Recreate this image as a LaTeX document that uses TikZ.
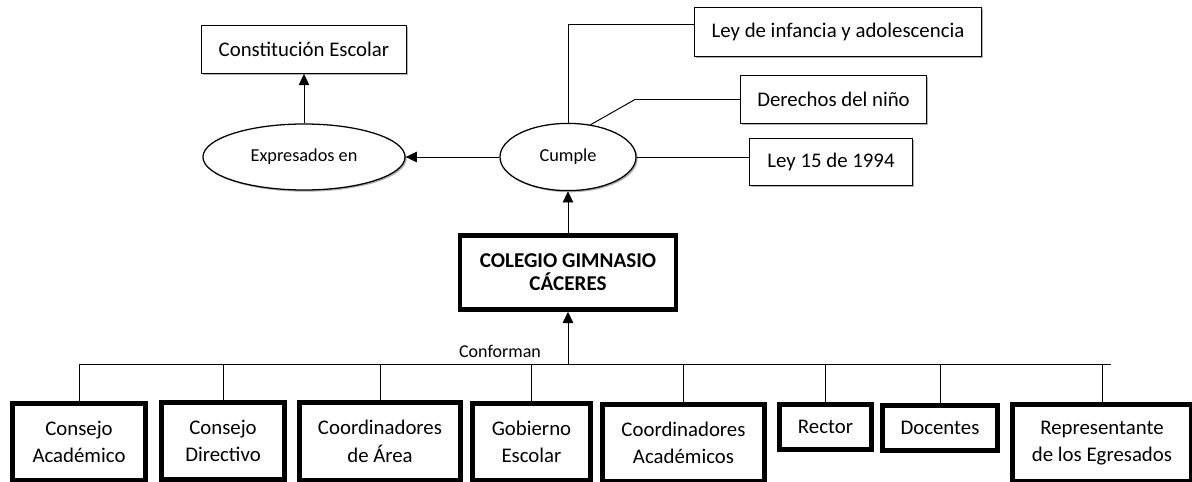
\documentclass[tikz,border=0pt]{standalone}
\usepackage{fontspec}
\setmainfont{Carlito}
\usetikzlibrary{shapes.geometric,arrows.meta,shadows}

\begin{document}
\begin{tikzpicture}[x=0.025cm,y=-0.025cm,line width=0.7pt]
    \tikzstyle{shade}=[drop shadow={shadow xshift=1.2pt,shadow yshift=-1.2pt,opacity=0.3,fill=black}]
    \tikzstyle{note}=[rectangle,draw=black,line width=0.9pt,fill=white,shade,inner sep=2pt,font=\fontsize{14.8}{18}\selectfont]
    \tikzstyle{oval}=[ellipse,draw=black,line width=0.9pt,fill=white,shade,inner sep=1pt,font=\fontsize{13}{16}\selectfont]
    \tikzstyle{member}=[rectangle,draw=black,line width=3.5pt,fill=white,shade,align=center,inner sep=2pt,font=\fontsize{14.8}{19.5}\selectfont]
    \tikzstyle{arr}=[-{Triangle[length=8pt,width=7.5pt]}]

    \useasboundingbox (0,0) rectangle (1192,481);
    \clip (0,0) rectangle (1192,481);

    % upper part
    \node[note,minimum width=5.12cm,minimum height=1.19cm] (const) at (304,49.5) {Constitución Escolar};
    \node[oval,minimum width=5.05cm,minimum height=1.65cm] (expr) at (304,157) {Expresados en};
    \node[oval,minimum width=3.4cm,minimum height=1.68cm] (cumple) at (568,157) {Cumple};
    \node[note,minimum width=7.17cm,minimum height=1.22cm] (leyinf) at (838,32) {Ley de infancia y adolescencia};
    \node[note,minimum width=4.64cm,minimum height=1.19cm] (derechos) at (833.5,99.5) {Derechos del niño};
    \node[note,minimum width=4.07cm,minimum height=1.19cm] (ley15) at (831,162) {Ley 15 de 1994};
    \node[member,minimum width=5.4cm,minimum height=1.85cm,line width=3.2pt,
          font=\fontsize{15}{16.5}\selectfont\bfseries] (colegio) at (568,272.5) {COLEGIO GIMNASIO\\CÁCERES};

    \draw[arr] (expr.north) -- (const.south);
    \draw[arr] (cumple.west) -- (expr.east);
    \draw[arr] (colegio.north) -- (cumple.south);
    \draw (cumple.north) |- ([yshift=0.2cm]leyinf.west);
    \draw (cumple.55) -- ([xshift=-2.625cm]derechos.west) -- (derechos.west);
    \draw (cumple.east) -- (cumple.east -| ley15.west);

    % lower part
    \foreach \name/\x/\y/\w/\h/\txt in {acad/79/442/3.33/1.93/{Consejo\\Académico},
                                        dir/223/441/3.08/1.93/{Consejo\\Directivo},
                                        area/380/441.5/4.03/1.93/{Coordinadores\\de Área},
                                        gob/531.5/442/2.95/1.93/{Gobierno\\Escolar},
                                        coordacad/683.5/443/4.05/1.93/{Coordinadores\\Académicos},
                                        rector/825.5/427/2.3/1.13/{Rector},
                                        docentes/940/428/2.88/1.13/{Docentes},
                                        repr/1102/443/4.48/1.93/{Representante\\de los Egresados}}
        \node[member,minimum width=\w cm,minimum height=\h cm] (\name) at (\x,\y) {\txt};

    \coordinate (barL) at (80,364);
    \coordinate (barR) at (1111,364);
    \draw (barL) -- (barR);
    \foreach \n in {acad,dir,area,gob,coordacad,rector,docentes,repr}
        \draw (\n.north) -- (\n.north |- barL);
    \draw[arr] (colegio.south |- barL) -- (colegio.south);
    \node[font=\fontsize{12.8}{15}\selectfont] (conforman) at (500,351) {Conforman};
\end{tikzpicture}
\end{document}
